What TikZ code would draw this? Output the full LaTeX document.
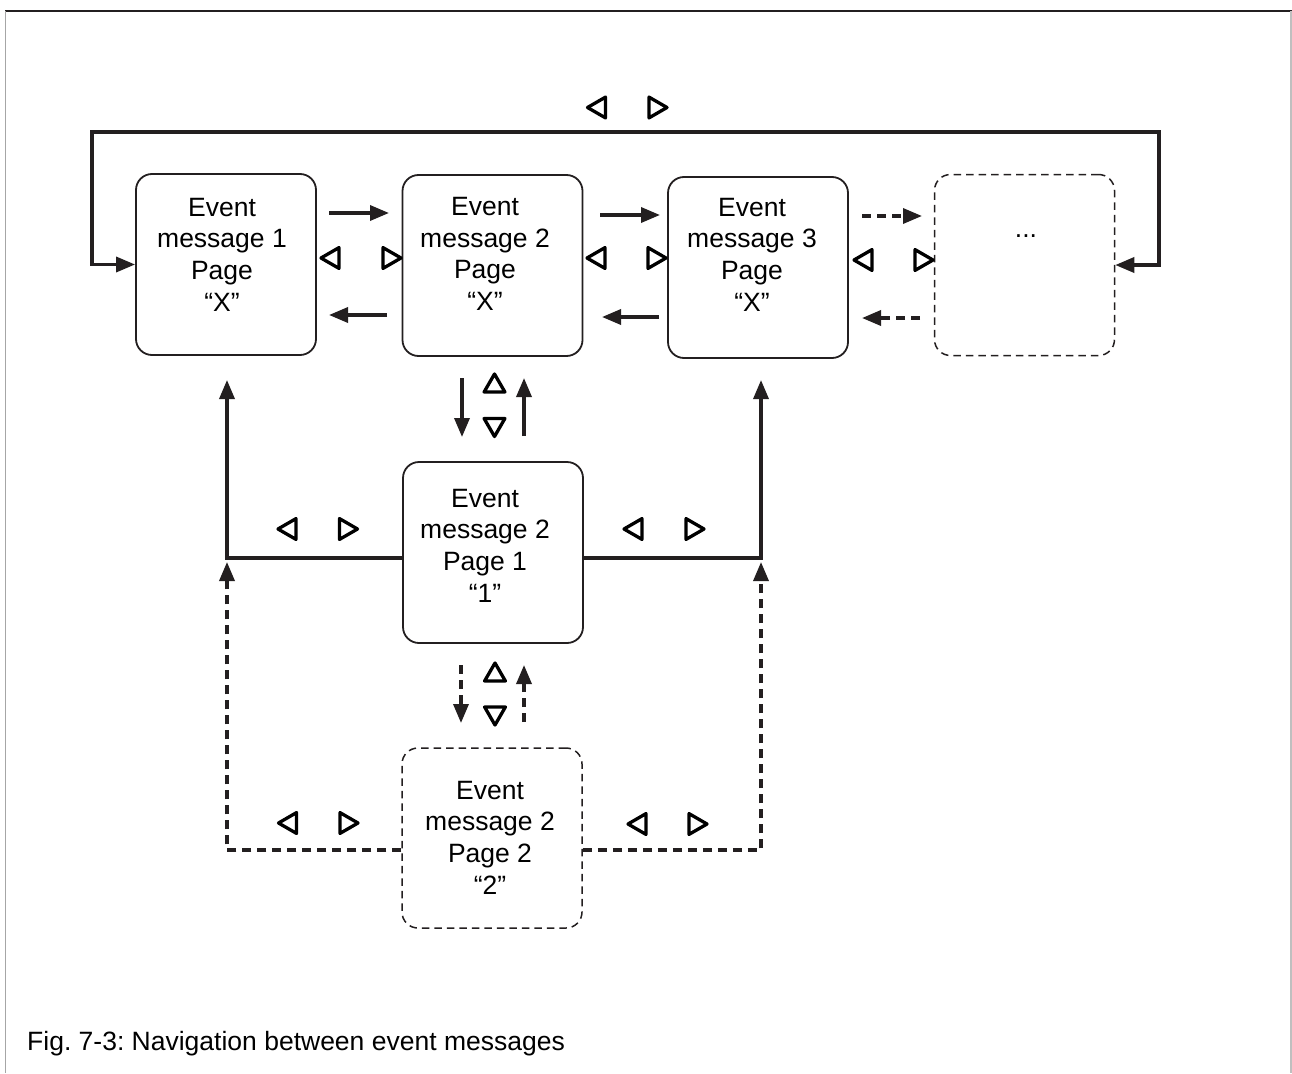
\documentclass[tikz,border=0pt]{standalone}
\usepackage{fontspec}
\setmainfont{Liberation Sans}
\usetikzlibrary{arrows.meta,shapes.geometric}
\definecolor{ink}{RGB}{35,31,32}
\frenchspacing
\begin{document}
\begin{tikzpicture}[x=1pt,y=-1pt,
  box/.style={draw=ink, rounded corners=16pt, line width=1.8pt, minimum width=180pt, minimum height=181pt, inner sep=0pt},
  dbox/.style={box, line width=1.5pt, dash pattern=on 7.5pt off 5pt},
  txt/.style={align=center, font=\fontsize{26.5}{31.7}\selectfont, text=black, inner sep=0pt},
  conn/.style={draw=ink, line width=3.4pt},
  dconn/.style={conn, dash pattern=on 9pt off 6pt},
  tip/.tip={Triangle[length=19pt,width=15pt]},
  tri/.style={draw=black, regular polygon, regular polygon sides=3, minimum size=24pt, inner sep=0pt, outer sep=0pt, line width=3.3pt, line join=round},
  lt/.style={tri, shape border rotate=90},
  rt/.style={tri, shape border rotate=-90},
  ut/.style={tri},
  dt/.style={tri, shape border rotate=180}]
\useasboundingbox (0,0) rectangle (1292,1073);
% frame
\draw[ink, line width=1.5pt] (5,11) -- (1292,11);
\draw[gray!70, line width=1.5pt] (5.5,11) -- (5.5,1073);
\draw[gray!50, line width=1.2pt] (1291,11) -- (1291,1073);

% boxes
\node[box]  (b1) at (226,264.5) {};
\node[box]  (b2) at (492.5,265.5) {};
\node[box]  (b3) at (758,267.5) {};
\node[dbox] (b4) at (1024.5,265) {};
\node[box]  (b5) at (493,552.5) {};
\node[dbox, minimum height=180pt] (b6) at (492,838) {};

\node[txt] (l1) at (222,254.5) {Event\\message 1\\Page\\“X”};
\node[txt] (l2) at (485,254) {Event\\message 2\\Page\\“X”};
\node[txt] (l3) at (752,254.5) {Event\\message 3\\Page\\“X”};
\node[txt, anchor=base] (l4) at (1026,237) {...};
\node[txt] (l5) at (485,545.5) {Event\\message 2\\Page 1\\“1”};
\node[txt] (l6) at (490,837.5) {Event\\message 2\\Page 2\\“2”};

% caption
\node[txt, anchor=base west] (cap) at (27,1050) {Fig. 7-3: Navigation between event messages};

% loop over the top
\coordinate (lpL) at (92,132);
\coordinate (lpR) at (1159,132);
\draw[conn, tip-tip] (b1.west) -| (lpL) -- (lpR) |- (b4.east);

% horizontal arrows between boxes
\coordinate (a12s) at (329,213); \coordinate (a12e) at (389,213);
\coordinate (a21s) at (387,315); \coordinate (a21e) at (329,315);
\coordinate (a23s) at (600,215); \coordinate (a23e) at (660,215);
\coordinate (a32s) at (659,317); \coordinate (a32e) at (602,317);
\coordinate (a34s) at (862,216); \coordinate (a34e) at (922,216);
\coordinate (a43s) at (920,318); \coordinate (a43e) at (862,318);
\draw[conn, -tip] (a12s) -- (a12e);
\draw[conn, -tip] (a21s) -- (a21e);
\draw[conn, -tip] (a23s) -- (a23e);
\draw[conn, -tip] (a32s) -- (a32e);
\draw[dconn, -tip] (a34s) -- (a34e);
\draw[dconn, -tip] (a43s) -- (a43e);

% vertical arrows
\coordinate (v25s) at (462,378); \coordinate (v25e) at (462,437);
\coordinate (v52s) at (524,436); \coordinate (v52e) at (524,378);
\coordinate (v56s) at (461,665); \coordinate (v56e) at (461,723);
\coordinate (v65s) at (524,722); \coordinate (v65e) at (524,665);
\draw[conn, -tip] (v25s) -- (v25e);
\draw[conn, -tip] (v52s) -- (v52e);
\draw[dconn, -tip] (v56s) -- (v56e);
\draw[dconn, -tip] (v65s) -- (v65e);

% side connections of page 1
\coordinate (up1L) at (227,380);
\coordinate (up1R) at (761,380);
\draw[conn, -tip] ([yshift=-5.5pt]b5.west) -| (up1L);
\draw[conn, -tip] ([yshift=-5.5pt]b5.east) -| (up1R);

% side connections of page 2
\coordinate (up2L) at (227,562);
\coordinate (up2R) at (761,562);
\draw[dconn, -tip] ([yshift=-12pt]b6.west) -| (up2L);
\draw[dconn, -tip] ([yshift=-12pt]b6.east) -| (up2R);

% navigation triangles
\node[lt] (t1) at (599.5,107.5) {};
\node[rt] (t2) at (655,107.5) {};
\node[lt] (t3) at (333,258) {};
\node[rt] (t4) at (389,258) {};
\node[lt] (t5) at (599,258) {};
\node[rt] (t6) at (654,258) {};
\node[lt] (t7) at (866,260) {};
\node[rt] (t8) at (921,260) {};
\node[ut] (t9) at (494.5,386) {};
\node[dt] (t10) at (494.5,424.5) {};
\node[lt] (t11) at (290,529) {};
\node[rt] (t12) at (345.5,529) {};
\node[lt] (t13) at (636,529) {};
\node[rt] (t14) at (692,529) {};
\node[ut] (t15) at (495,675) {};
\node[dt] (t16) at (495,713) {};
\node[lt] (t17) at (290.5,823) {};
\node[rt] (t18) at (346,823) {};
\node[lt] (t19) at (640,824) {};
\node[rt] (t20) at (695,824) {};
\end{tikzpicture}
\end{document}
